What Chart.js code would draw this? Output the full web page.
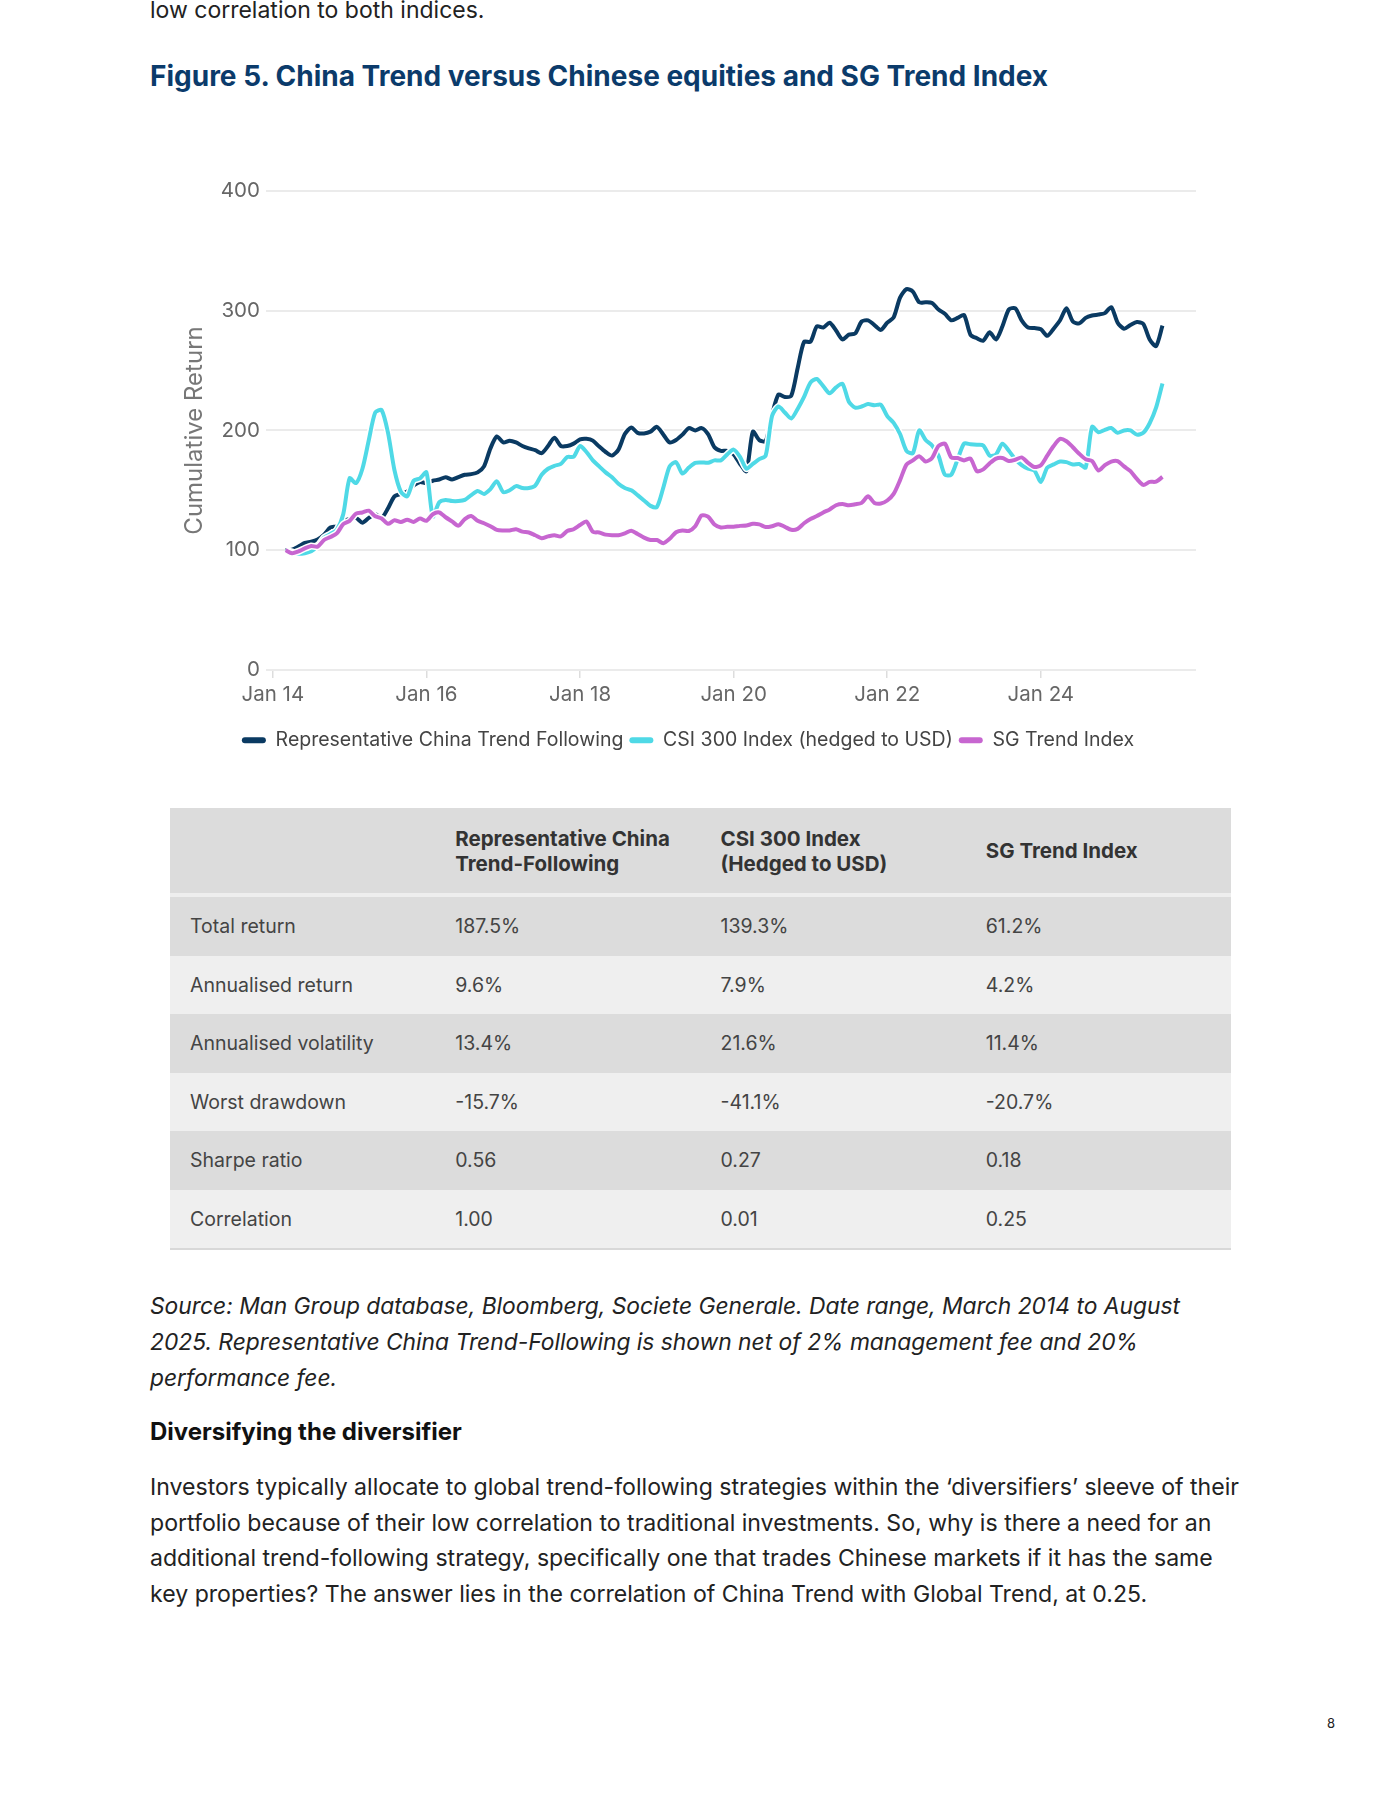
<!DOCTYPE html>
<html>
<head>
<meta charset="utf-8">
<script src="https://cdn.jsdelivr.net/npm/chart.js@4.4.1/dist/chart.umd.min.js"></script>
<style>
  html, body { margin: 0; padding: 0; background: #fff; }
  body { width: 1400px; height: 1809px; position: relative; overflow: hidden; font-family: Inter, "Noto Sans", sans-serif; color: #222; }
  .abs { position: absolute; left: 150px; white-space: nowrap; }
  #intro { top: -3px; font-size: 23px; line-height: 26px; color: #222; }
  #title { top: 60px; font-size: 28px; line-height: 32px; font-weight: 700; color: #0b3b6b; }
  #chartBox { position: absolute; left: 150px; top: 160px; width: 1086px; height: 600px; }
  table { position: absolute; left: 170px; top: 808px; width: 1061px; border-collapse: collapse; table-layout: fixed; font-size: 19.5px; color: #444; }
  th { background: #dcdcdc; height: 85px; text-align: left; font-weight: 700; font-size: 20.5px; color: #333; line-height: 25px; padding: 0 0 0 20px; border-bottom: 4px solid #eeeeee; vertical-align: middle; }
  td { height: 58.5px; padding: 0 0 0 20px; vertical-align: middle; }
  tbody tr:nth-child(odd) td { background: #dcdcdc; }
  tbody tr:nth-child(even) td { background: #efefef; }
  tbody tr:last-child td { border-bottom: 2px solid #d8d8d8; }
  #source { top: 1288px; font-size: 22.8px; line-height: 36px; font-style: italic; color: #222; }
  #subhead { top: 1418px; font-size: 24px; line-height: 28px; font-weight: 700; color: #111; }
  #para { top: 1470px; font-size: 23.1px; line-height: 35.5px; color: #222; }
  #page { position: absolute; left: 1327px; top: 1715px; font-size: 13px; color: #222; }
</style>
</head>
<body>
<div id="intro" class="abs">low correlation to both indices.</div>
<div id="title" class="abs">Figure 5. China Trend versus Chinese equities and SG Trend Index</div>
<div id="chartBox"><canvas id="chart" width="1086" height="600"></canvas></div>

<table>
  <thead>
    <tr><th></th><th>Representative China<br>Trend-Following</th><th>CSI 300 Index<br>(Hedged to USD)</th><th>SG Trend Index</th></tr>
  </thead>
  <tbody id="statsBody"></tbody>
</table>

<div id="source" class="abs">Source: Man Group database, Bloomberg, Societe Generale. Date range, March 2014 to August<br>2025. Representative China Trend-Following is shown net of 2% management fee and 20%<br>performance fee.</div>
<div id="subhead" class="abs">Diversifying the diversifier</div>
<div id="para" class="abs">Investors typically allocate to global trend-following strategies within the ‘diversifiers’ sleeve of their<br>portfolio because of their low correlation to traditional investments. So, why is there a need for an<br>additional trend-following strategy, specifically one that trades Chinese markets if it has the same<br>key properties? The answer lies in the correlation of China Trend with Global Trend, at 0.25.</div>
<div id="page">8</div>

<script>
// monthly points, March 2014 .. August 2025
const firstYear = 2014;
const firstMonth = 3;

const chinaTrend = [
  100, 100.5, 103, 106, 107, 109, 113, 119, 120, 124,
  126, 127, 123, 127, 130, 127, 135, 145, 147, 149,
  154, 157, 156, 158, 159, 161, 159, 161, 163, 163.5,
  165, 170, 185, 195, 190, 191.5, 190, 187, 185, 183.5,
  181, 187, 194, 187, 187, 189, 192.5, 193, 191.5, 186.5,
  182, 179, 184, 197, 202.5, 198, 197.5, 199, 203, 196.7,
  190, 192, 196.5, 202, 200, 202, 197, 186, 183, 183,
  180, 172, 166, 199, 192, 191, 213, 230, 228, 229,
  252, 274, 274, 287, 286, 290, 283.5, 276, 280, 281,
  291, 292, 288, 284, 290, 294.5, 311, 318, 316, 307,
  307, 306.5, 301, 297.5, 292, 294, 296.4, 280, 277, 275,
  282, 276, 287, 301, 302, 292, 286, 285.5, 284.5, 279,
  285, 292, 302, 291, 289.4, 294, 296, 296.8, 298, 303,
  290, 285, 288, 290.5, 289, 276, 270.5, 287.5
];

const csi300 = [
  100, 98.5, 97, 97.5, 99, 103.5, 110.5, 113.5, 117, 130,
  160, 156, 168, 192, 215, 217, 198, 167, 149, 145,
  158, 160, 165, 128, 140, 142, 141, 141, 142, 146,
  149.5, 147, 151, 157.5, 148.5, 150, 153.5, 152, 152, 154,
  163, 168, 170.5, 172, 177.8, 178, 187, 182, 175, 170,
  165, 161, 155.5, 152, 150, 146, 141.5, 137, 136, 152,
  170, 173.5, 164, 169, 173, 173.3, 173, 175, 175, 180,
  184, 178, 168, 172, 176, 179, 212, 220, 215, 210,
  218, 228, 240, 243, 237, 231, 236, 239, 224, 219,
  220, 222, 221, 221.5, 212, 206.4, 197, 183, 181, 200,
  192, 187.5, 179, 163, 163, 176, 189, 188.5, 188, 187.5,
  179, 180, 189, 183, 176, 171, 168, 166.5, 157, 169,
  171.7, 174, 173.5, 171.5, 172, 169, 203, 198.5, 200.5, 202,
  198, 200, 200, 196.5, 198, 206, 219, 239.3
];

const sgTrend = [
  100, 97.5, 99, 101.5, 103.5, 103, 108.5, 111, 114, 121.7,
  124.5, 130.5, 131.5, 133, 128.3, 126.5, 122, 125, 123.5, 125.5,
  123.5, 126.5, 124.5, 130, 131.5, 127.5, 124, 120.5, 126, 128.5,
  124.5, 122.5, 120, 117, 116.5, 116.5, 117.5, 115.5, 114.8, 112.5,
  110, 111.5, 112.5, 111.5, 116, 117.5, 121, 124, 115.3, 114.8,
  113, 112.5, 112.5, 114, 116.3, 113.5, 110.5, 108.5, 108.5, 105.8,
  109.5, 115, 116.5, 116, 120, 129, 128, 121.5, 119, 119.5,
  119.6, 120.3, 120.6, 122, 121.5, 119.3, 120, 121.7, 119.5, 117,
  117.8, 122.5, 126, 128.5, 131.5, 134, 137.5, 138.5, 137.5, 138.3,
  139.5, 145, 139.5, 139, 141.5, 147, 158.5, 171.5, 175, 178.5,
  174, 177, 187, 189, 177.5, 177, 175, 176.5, 166, 167.5,
  172.5, 176.5, 177, 174.5, 175.5, 177.5, 173, 169.5, 171, 179,
  187, 193, 191, 186, 180.5, 176, 174.5, 166.5, 171, 174,
  174.4, 170, 166, 159.5, 154.5, 157, 157.2, 161.2
];

const seriesNames = ["Representative China Trend Following", "CSI 300 Index (hedged to USD)", "SG Trend Index"];
const seriesColors = ["#0a3a62", "#4fd9e6", "#c766d0"];
const tickYears = [2014, 2016, 2018, 2020, 2022, 2024];
const tickLabels = ["Jan 14", "Jan 16", "Jan 18", "Jan 20", "Jan 22", "Jan 24"];

const statRows = ["Total return", "Annualised return", "Annualised volatility", "Worst drawdown", "Sharpe ratio", "Correlation"];
const statChina = ["187.5%", "9.6%", "13.4%", "-15.7%", "0.56", "1.00"];
const statCsi = ["139.3%", "7.9%", "21.6%", "-41.1%", "0.27", "0.01"];
const statSg = ["61.2%", "4.2%", "11.4%", "-20.7%", "0.18", "0.25"];

const tbody = document.getElementById("statsBody");
statRows.forEach((name, i) => {
  const row = document.createElement("tr");
  row.innerHTML = `<td>${name}</td><td>${statChina[i]}</td><td>${statCsi[i]}</td><td>${statSg[i]}</td>`;
  tbody.appendChild(row);
});

function toPoints(values) {
  return values.map((v, i) => ({ x: firstYear + (firstMonth - 1 + i) / 12, y: v }));
}

const allSeries = [chinaTrend, csi300, sgTrend];
const datasets = [];
// coloured lines: first one at the bottom, SG on top
allSeries.forEach((values, k) => {
  datasets.push({
    label: seriesNames[k],
    data: toPoints(values),
    borderColor: seriesColors[k],
    backgroundColor: seriesColors[k],
    borderWidth: 4,
    pointRadius: 0,
    tension: 0.25,
    order: 3 - k,
  });
});
// white halo under each line
allSeries.forEach((values, k) => {
  datasets.push({
    label: "",
    data: toPoints(values),
    borderColor: "#ffffff",
    borderWidth: 7,
    pointRadius: 0,
    tension: 0.25,
    order: 3.5 - k,
  });
});

Chart.defaults.font.family = "Inter, 'Noto Sans', sans-serif";

new Chart(document.getElementById("chart").getContext("2d"), {
  type: "line",
  data: { datasets: datasets },
  options: {
    animation: false,
    responsive: false,
    devicePixelRatio: 1,
    layout: { padding: { left: 30, right: 40, top: 31, bottom: 0 } },
    scales: {
      x: {
        type: "linear",
        min: 2013.91,
        max: 2026.02,
        afterBuildTicks: (scale) => {
          scale.ticks = tickYears.map((v) => ({ value: v }));
        },
        afterFit: (scale) => {
          scale.height += 12;
        },
        ticks: {
          autoSkip: false,
          maxRotation: 0,
          padding: 5,
          color: "#666",
          font: { size: 20.5 },
          callback: (v, idx) => tickLabels[idx],
        },
        grid: { drawOnChartArea: false, drawTicks: true, tickLength: 8, color: "#dddddd", lineWidth: 1.5 },
        border: { display: false },
      },
      y: {
        min: 0,
        max: 400,
        ticks: { stepSize: 100, padding: 6, color: "#666", font: { size: 20.5 } },
        grid: { color: "#ebebeb", lineWidth: 2, drawTicks: false },
        border: { display: false },
        title: {
          display: true,
          text: "Cumulative Return",
          color: "#777",
          font: { size: 24 },
          padding: { top: 0, bottom: 6 },
        },
      },
    },
    plugins: {
      tooltip: { enabled: false },
      legend: {
        position: "bottom",
        labels: {
          color: "#444",
          font: { size: 19.5 },
          boxWidth: 24,
          boxHeight: 6,
          useBorderRadius: true,
          borderRadius: 3,
          padding: 6,
          generateLabels: (chart) =>
            Chart.defaults.plugins.legend.labels.generateLabels(chart).map((item) => ({
              ...item,
              lineWidth: 0,
              fillStyle: item.strokeStyle,
            })),
          filter: (item) => item.datasetIndex < 3,
          sort: (a, b) => a.datasetIndex - b.datasetIndex,
        },
      },
    },
  },
});
</script>
</body>
</html>
